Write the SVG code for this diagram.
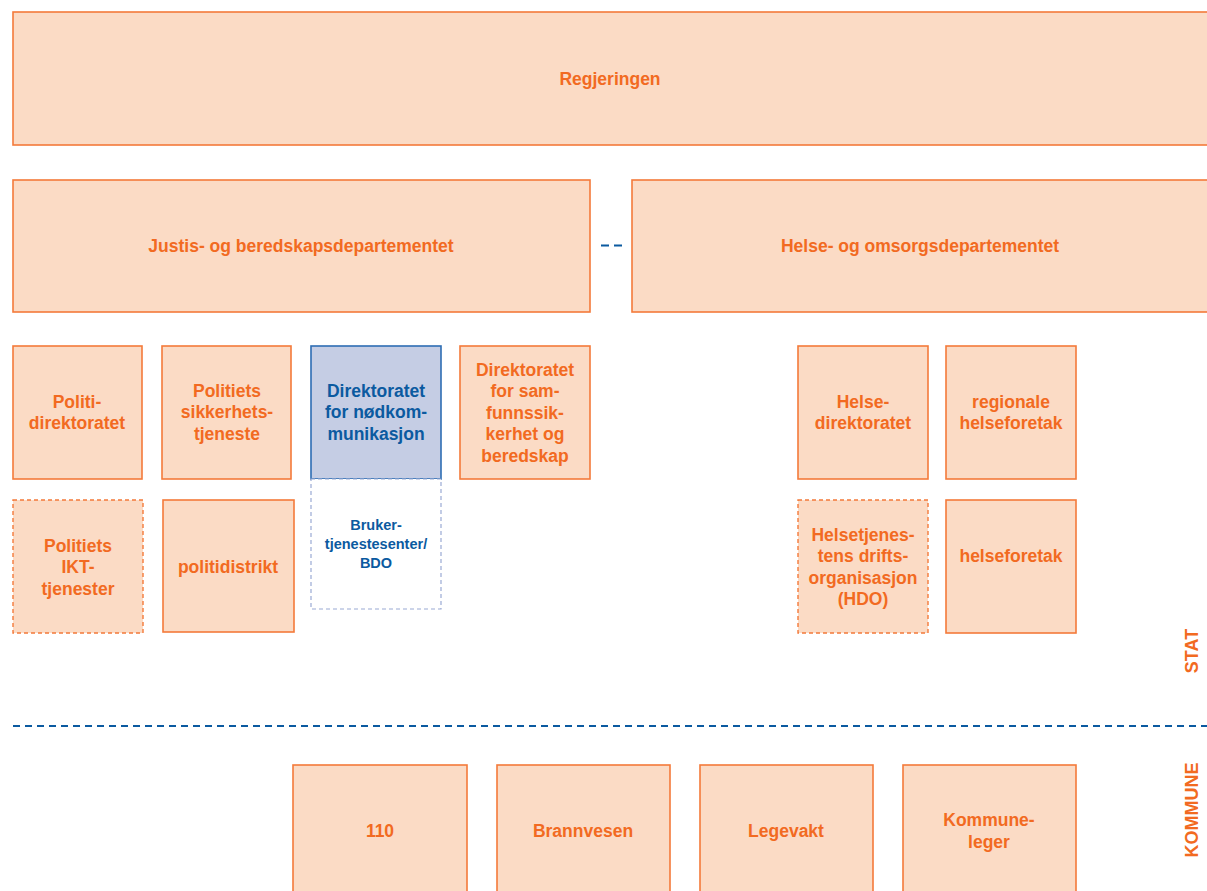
<svg xmlns="http://www.w3.org/2000/svg" width="1207" height="891" viewBox="0 0 1207 891">
<style>
.b{fill:#fbdbc5;stroke:#f47a3a;stroke-width:1.6}
.d{fill:#fbdbc5;stroke:#f47a3a;stroke-width:1.4;stroke-dasharray:4 3}
.bl{fill:#c5cde4;stroke:#2d6db3;stroke-width:1.6}
.bd{fill:#fff;stroke:#9aaad4;stroke-width:1.2;stroke-dasharray:4 3}
text{font-family:"Liberation Sans",Arial,sans-serif;font-size:17.5px;font-weight:bold;fill:#f26a21;text-anchor:middle}
.t{fill:#0b5aa0}
.s{font-size:14.5px;fill:#0b5aa0}
.side{font-size:18px}
</style>
<g id="regjeringen"><rect class="b" x="13" y="12" width="1200" height="133"/><text x="610" y="85">Regjeringen</text></g>
<g id="justis"><rect class="b" x="13" y="180" width="577" height="132"/><text x="301" y="252">Justis- og beredskapsdepartementet</text></g>
<g id="helse"><rect class="b" x="632" y="180" width="580" height="132"/><text x="920" y="252">Helse- og omsorgsdepartementet</text></g>
<g id="politidir"><rect class="b" x="13" y="346" width="129" height="133"/><text x="77" y="408">Politi-</text><text x="77" y="429">direktoratet</text></g>
<g id="pst"><rect class="b" x="162" y="346" width="129" height="133"/><text x="227" y="397">Politiets</text><text x="227" y="418">sikkerhets-</text><text x="227" y="440">tjeneste</text></g>
<g id="dnk"><rect class="bl" x="311" y="346" width="130" height="133"/><text class="t" x="376" y="397">Direktoratet</text><text class="t" x="376" y="418">for nødkom-</text><text class="t" x="376" y="440">munikasjon</text></g>
<g id="dsb"><rect class="b" x="460" y="346" width="130" height="133"/><text x="525" y="376">Direktoratet</text><text x="525" y="397">for sam-</text><text x="525" y="419">funnssik-</text><text x="525" y="440">kerhet og</text><text x="525" y="462">beredskap</text></g>
<g id="helsedir"><rect class="b" x="798" y="346" width="130" height="133"/><text x="863" y="408">Helse-</text><text x="863" y="429">direktoratet</text></g>
<g id="rhf"><rect class="b" x="946" y="346" width="130" height="133"/><text x="1011" y="408">regionale</text><text x="1011" y="429">helseforetak</text></g>
<g id="pit"><rect class="d" x="13" y="500" width="130" height="133"/><text x="78" y="552">Politiets</text><text x="78" y="573">IKT-</text><text x="78" y="595">tjenester</text></g>
<g id="politidistrikt"><rect class="b" x="163" y="500" width="131" height="132"/><text x="228" y="573">politidistrikt</text></g>
<g id="bdo"><rect class="bd" x="311" y="479" width="130" height="130"/><text class="s" x="376" y="530">Bruker-</text><text class="s" x="376" y="549">tjenestesenter/</text><text class="s" x="376" y="568">BDO</text></g>
<g id="hdo"><rect class="d" x="798" y="500" width="130" height="133"/><text x="863" y="541">Helsetjenes-</text><text x="863" y="562">tens drifts-</text><text x="863" y="584">organisasjon</text><text x="863" y="605">(HDO)</text></g>
<g id="hf"><rect class="b" x="946" y="500" width="130" height="133"/><text x="1011" y="562">helseforetak</text></g>
<g id="n110"><rect class="b" x="293" y="765" width="174" height="140"/><text x="380" y="837">110</text></g>
<g id="brann"><rect class="b" x="497" y="765" width="173" height="140"/><text x="583" y="837">Brannvesen</text></g>
<g id="legevakt"><rect class="b" x="700" y="765" width="173" height="140"/><text x="786" y="837">Legevakt</text></g>
<g id="kommuneleger"><rect class="b" x="903" y="765" width="173" height="140"/><text x="989" y="826">Kommune-</text><text x="989" y="848">leger</text></g>
<g id="connectors">
<line x1="601" y1="245.5" x2="622" y2="245.5" stroke="#0b5aa0" stroke-width="2" stroke-dasharray="8 5"/>
<line x1="13" y1="726" x2="1207" y2="726" stroke="#0b5aa0" stroke-width="2" stroke-dasharray="7 5"/>
</g>
<g id="labels">
<text class="side" transform="translate(1198,651) rotate(-90)">STAT</text>
<text class="side" transform="translate(1198,810) rotate(-90)">KOMMUNE</text>
</g>
</svg>
